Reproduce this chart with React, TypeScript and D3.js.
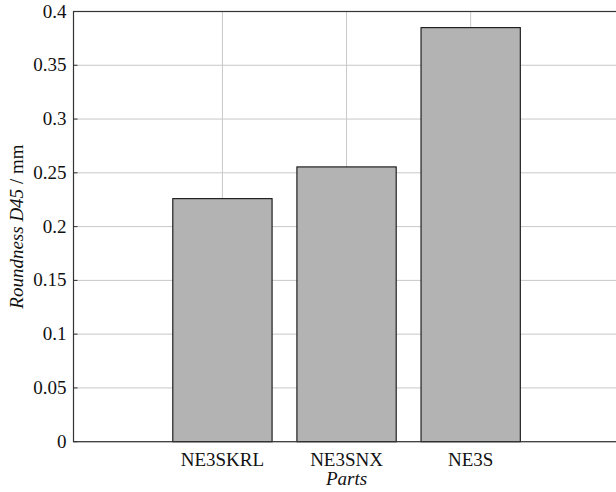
import React from 'react';
import * as d3 from 'd3';

const CATEGORIES = ['NE3SKRL', 'NE3SNX', 'NE3S'];
const VALUES = [0.226, 0.2555, 0.385];
const Y_TICKS = [0, 0.05, 0.1, 0.15, 0.2, 0.25, 0.3, 0.35, 0.4];

const W = 616;
const H = 492;
const LEFT = 73.5;
const RIGHT = 619.6;
const TOP = 11.5;
const BOTTOM = 441.7;
const FONT = "'Liberation Serif'";

export default function App() {
  const x = d3.scaleLinear().domain([-1.2, CATEGORIES.length - 1 + 1.2]).range([LEFT, RIGHT]);
  const y = d3.scaleLinear().domain([0, 0.4]).range([BOTTOM, TOP]);
  const barW = x(0.8) - x(0);
  const fmt = (v: number) => String(+v.toFixed(2));

  return (
    <svg
      width={W}
      height={H}
      fontFamily="Liberation Serif"
      style={{ position: 'absolute', left: 0, top: 0, background: '#fff', fontFamily: FONT }}
    >
      {/* grid */}
      {Y_TICKS.map((t) => (
        <line key={'gy' + t} x1={LEFT} x2={RIGHT} y1={y(t)} y2={y(t)} stroke="#c8c8c8" strokeWidth={1} />
      ))}
      {CATEGORIES.map((c, i) => (
        <line key={'gx' + c} x1={x(i)} x2={x(i)} y1={TOP} y2={BOTTOM} stroke="#c8c8c8" strokeWidth={1} />
      ))}
      {/* bars */}
      {VALUES.map((v, i) => (
        <rect
          key={i}
          x={x(i) - barW / 2}
          y={y(v)}
          width={barW}
          height={y(0) - y(v)}
          fill="#b3b3b3"
          stroke="#111"
          strokeWidth={1.1}
        />
      ))}
      {/* axes frame */}
      <rect x={LEFT} y={TOP} width={RIGHT - LEFT} height={BOTTOM - TOP} fill="none" stroke="#333" strokeWidth={1.2} />
      {Y_TICKS.map((t) => (
        <line key={'tk' + t} x1={LEFT} x2={LEFT + 4} y1={y(t)} y2={y(t)} stroke="#333" />
      ))}
      {Y_TICKS.map((t) => (
        <text key={'ty' + t} x={66.5} y={y(t) + 6} textAnchor="end" style={{ fontFamily: FONT, fontSize: 19 }} fill="#111">
          {fmt(t)}
        </text>
      ))}
      {CATEGORIES.map((c, i) => (
        <text key={'tx' + c} x={x(i)} y={466} textAnchor="middle" style={{ fontFamily: FONT, fontSize: 19 }} fill="#111">
          {c}
        </text>
      ))}
      <text x={(LEFT + RIGHT) / 2} y={485} textAnchor="middle" style={{ fontFamily: FONT, fontSize: 19, fontStyle: 'italic' }} fill="#111">
        Parts
      </text>
      <text
        transform={`translate(23,${(TOP + BOTTOM) / 2}) rotate(-90)`}
        textAnchor="middle"
        style={{ fontFamily: FONT, fontSize: 19 }}
        fill="#111"
      >
        <tspan style={{ fontStyle: 'italic' }}>Roundness D45</tspan>
        <tspan> / mm</tspan>
      </text>
    </svg>
  );
}
